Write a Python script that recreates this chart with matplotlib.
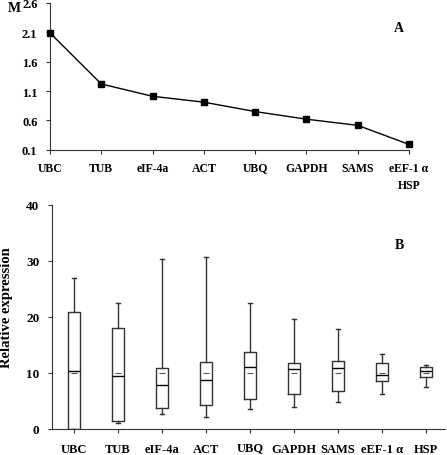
import matplotlib
matplotlib.use('Agg')
import matplotlib.pyplot as plt
from matplotlib.transforms import ScaledTranslation

plt.rcParams['font.family'] = ['Liberation Serif', 'DejaVu Serif']
plt.rcParams['font.weight'] = 'bold'

# Panel A: stability value M
genes_a = ['UBC', 'TUB', 'eIF-4a', 'ACT', 'UBQ', 'GAPDH', 'SAMS', 'eEF-1 \u03b1\nHSP']
m_values = [2.09, 1.22, 1.01, 0.91, 0.75, 0.62, 0.515, 0.19]
m_ticks = [0.1, 0.6, 1.1, 1.6, 2.1, 2.6]

# Panel B: relative expression box stats
genes_b = ['UBC', 'TUB', 'eIF-4a', 'ACT', 'UBQ', 'GAPDH', 'SAMS', 'eEF-1 \u03b1', 'HSP']
whisk_lo = [0.0, 1.0, 2.6, 2.2, 3.6, 3.9, 4.75, 6.2, 7.5]
q1 = [0.0, 1.5, 3.7, 4.3, 5.3, 6.3, 6.7, 8.55, 9.3]
median = [10.3, 9.4, 7.8, 8.8, 11.1, 10.75, 10.8, 9.7, 10.4]
q3 = [20.8, 18.1, 10.8, 12.0, 13.8, 11.8, 12.2, 11.7, 11.0]
whisk_hi = [26.9, 22.4, 30.4, 30.7, 22.4, 19.6, 17.8, 13.4, 11.5]
means = [10.0, 9.9, 10.0, 9.9, 10.0, 10.0, 10.0, 10.0, 10.0]
y_ticks_b = [0, 10, 20, 30, 40]

W, H = 447, 456
fig = plt.figure(figsize=(W / 100, H / 100), dpi=100)
fig.patch.set_facecolor('white')

spine_col = '#333333'


def lift_q_labels(ax, dy):
    # the Q tail pushes matplotlib's label box down a little; nudge it back up
    for lab in ax.get_xticklabels():
        if 'Q' in lab.get_text():
            lab.set_transform(lab.get_transform() + ScaledTranslation(0, dy, fig.dpi_scale_trans))


# ---- panel A
ax1 = fig.add_axes([50 / W, 1 - 150.7 / H, 359 / W, 146.7 / H])
ax1.plot(range(len(m_values)), m_values, color='black', linewidth=1.0,
         marker='s', markersize=4.6, markerfacecolor='black', clip_on=False, zorder=3)
ax1.set_xlim(0, len(m_values) - 1)
ax1.set_ylim(0.1, 2.6)
ax1.set_yticks(m_ticks)
ax1.set_yticklabels([f'{v:.1f}' for v in m_ticks], fontsize=9, fontweight='bold')
ax1.set_xticks(range(len(genes_a)))
ax1.set_xticklabels(genes_a, fontsize=8.5, fontweight='bold', linespacing=1.5)
ax1.tick_params(axis='both', length=3, width=0.8, color=spine_col)
ax1.tick_params(axis='x', pad=6)
ax1.tick_params(axis='y', pad=6)
for s in ['top', 'right']:
    ax1.spines[s].set_visible(False)
for s in ['left', 'bottom']:
    ax1.spines[s].set_color(spine_col)
    ax1.spines[s].set_linewidth(0.8)
lift_q_labels(ax1, 0.012)
fig.text(14 / W, 1 - 8 / H, 'M', fontsize=10, fontweight='bold', ha='center', va='center')
fig.text(399 / W, 1 - 28 / H, 'A', fontsize=10, fontweight='bold', ha='center', va='center')

# ---- panel B
ax2 = fig.add_axes([52 / W, 1 - 430 / H, 393 / W, 224.3 / H])
stats = []
for i, g in enumerate(genes_b):
    stats.append(dict(label=g, whislo=whisk_lo[i], q1=q1[i], med=median[i],
                      q3=q3[i], whishi=whisk_hi[i], mean=means[i], fliers=[]))
positions = [i + 0.5 for i in range(len(genes_b))]
ax2.bxp(stats, positions=positions, widths=0.27, showmeans=True,
        showfliers=False, patch_artist=False,
        boxprops=dict(color=spine_col, linewidth=1.0),
        whiskerprops=dict(color=spine_col, linewidth=1.0),
        capprops=dict(color=spine_col, linewidth=1.0),
        medianprops=dict(color='black', linewidth=1.0),
        meanprops=dict(marker='_', markeredgecolor='#555555', markersize=4,
                       markeredgewidth=0.8),
        capwidths=0.08)
ax2.set_xlim(0, 8.93)
ax2.set_ylim(0, 40)
ax2.set_yticks(y_ticks_b)
ax2.set_yticklabels([str(v) for v in y_ticks_b], fontsize=9.5, fontweight='bold')
ax2.set_xticks(positions)
ax2.set_xticklabels(genes_b, fontsize=9, fontweight='bold')
ax2.tick_params(axis='both', length=3, width=0.8, color=spine_col)
ax2.tick_params(axis='x', pad=7)
ax2.tick_params(axis='y', pad=6)
for s in ['top', 'right']:
    ax2.spines[s].set_visible(False)
for s in ['left', 'bottom']:
    ax2.spines[s].set_color(spine_col)
    ax2.spines[s].set_linewidth(0.8)
lift_q_labels(ax2, 0.02)
ax2.set_ylabel('Relative expression', fontsize=10.5, fontweight='bold')
ax2.yaxis.set_label_coords((13 - 52) / 393, (430 - 308) / 224.3)
fig.text(399 / W, 1 - 246 / H, 'B', fontsize=10, fontweight='bold', ha='center', va='center')

fig.savefig('out.png', dpi=100)
